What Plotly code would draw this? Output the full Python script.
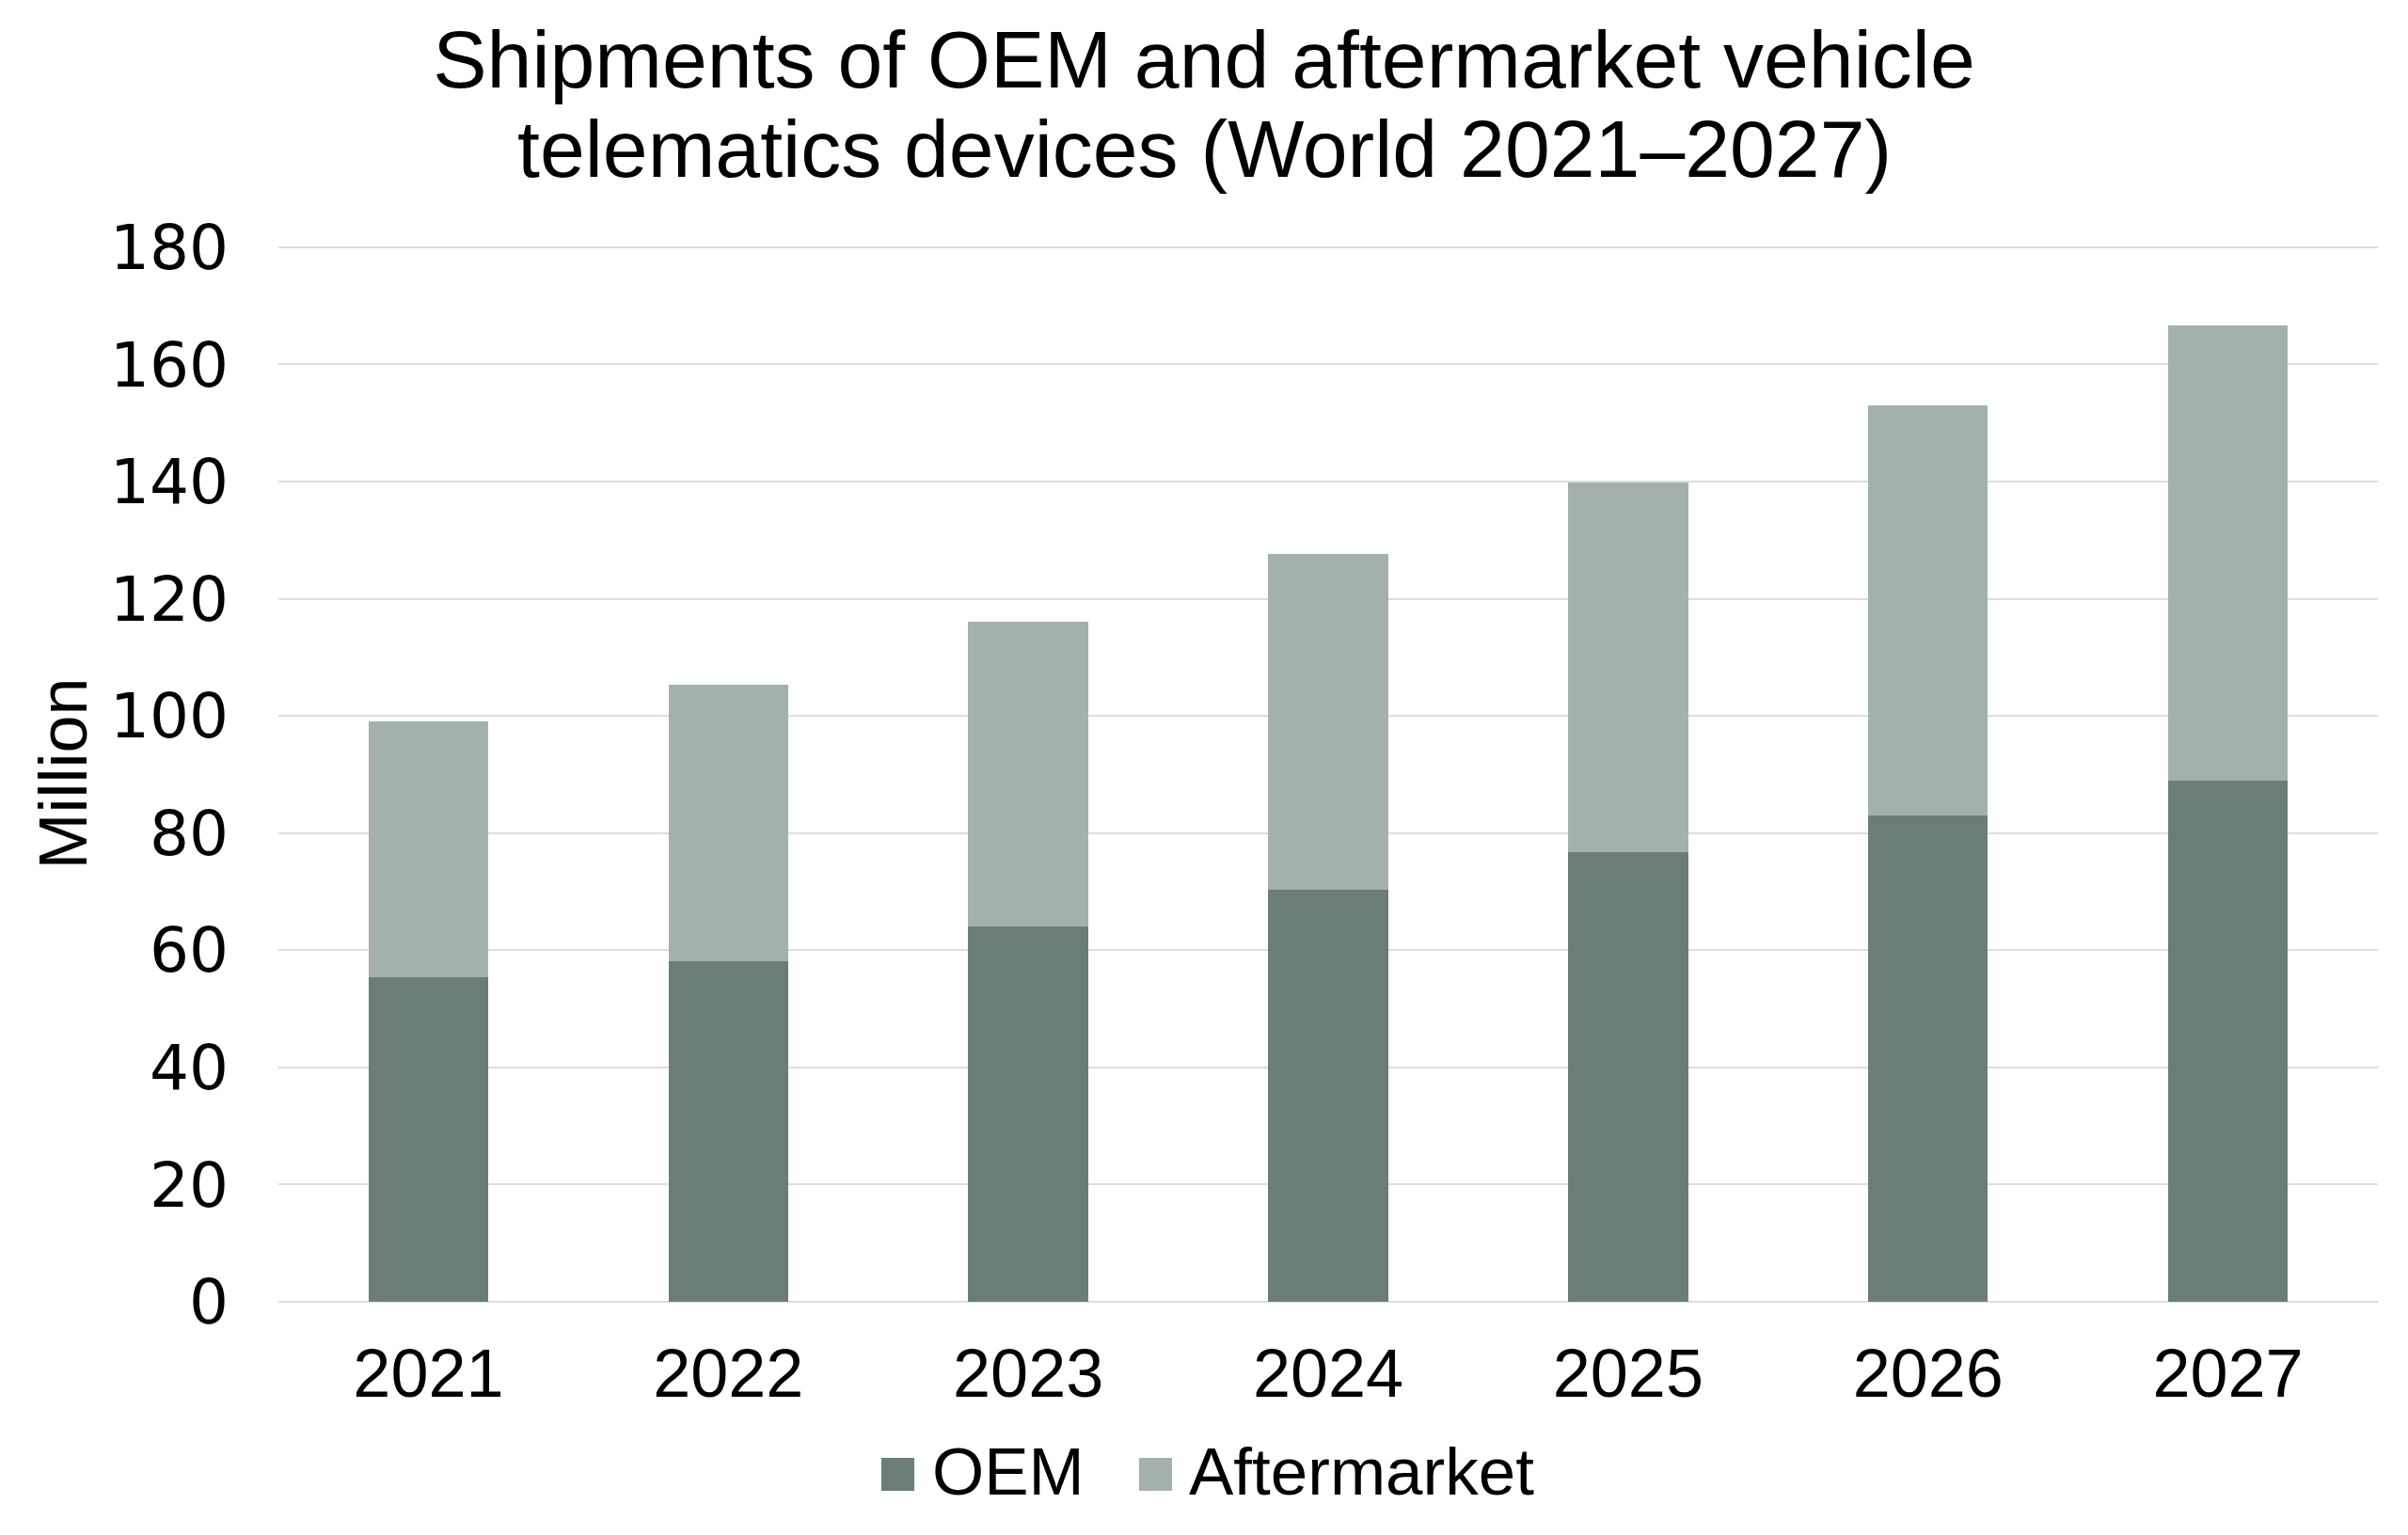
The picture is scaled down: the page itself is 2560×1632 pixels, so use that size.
import plotly.graph_objects as go

years = ["2021", "2022", "2023", "2024", "2025", "2026", "2027"]
oem = [55.4, 58.2, 64.1, 70.4, 76.8, 83.0, 88.9]
aftermarket = [43.7, 47.2, 51.9, 57.2, 63.1, 70.0, 77.7]
y_ticks = [0, 20, 40, 60, 80, 100, 120, 140, 160, 180]
title_lines = ["Shipments of OEM and aftermarket vehicle", "telematics devices (World 2021\u20132027)"]
series_names = ["OEM", "Aftermarket"]

OEM_COLOR = "#6B7D76"
AFT_COLOR = "#A4B0AB"
FONT = "Liberation Sans, Arial, sans-serif"
TICK_FONT = "DejaVu Sans, sans-serif"

W, H = 2560, 1632
L, T, R, B = 288, 253, 40, 256
PW, PH = W - L - R, H - T - B


def px_x(x):
    return (x - L) / PW


def px_y(y):
    return (H - B - y) / PH


fig = go.Figure()
fig.add_trace(go.Bar(name=series_names[0], x=years, y=oem, showlegend=False,
                     marker=dict(color=OEM_COLOR, line=dict(width=0))))
fig.add_trace(go.Bar(name=series_names[1], x=years, y=aftermarket, showlegend=False,
                     marker=dict(color=AFT_COLOR, line=dict(width=0))))

# custom legend with large square swatches
legend_items = [(series_names[0], OEM_COLOR, 929, 981), (series_names[1], AFT_COLOR, 1203, 1254)]
shapes, annotations = [], []
for name, color, sx, tx in legend_items:
    shapes.append(dict(type="rect", xref="paper", yref="paper",
                       x0=px_x(sx), x1=px_x(sx + 35), y0=px_y(1577), y1=px_y(1542),
                       fillcolor=color, line=dict(width=0)))
    annotations.append(dict(text=name, xref="paper", yref="paper", x=px_x(tx), y=px_y(1557),
                            xanchor="left", yanchor="middle", showarrow=False,
                            font=dict(family=FONT, size=71, color="black")))

annotations.append(dict(text=title_lines[1], xref="paper", yref="paper",
                        x=px_x(W / 2 - 8), y=px_y(150), xanchor="center", yanchor="middle",
                        showarrow=False, font=dict(family=FONT, size=86, color="black")))

fig.update_layout(
    width=W, height=H,
    barmode="stack", bargap=0.6,
    paper_bgcolor="white", plot_bgcolor="white",
    font=dict(family=FONT, color="black", size=70),
    margin=dict(l=L, r=R, t=T, b=B),
    title=dict(
        text=title_lines[0],
        x=(W / 2 - 8) / W, xref="container", xanchor="center",
        y=1 - 25 / H, yref="container", yanchor="top",
        font=dict(family=FONT, size=86, color="black"),
    ),
    showlegend=False,
    shapes=shapes,
    annotations=annotations,
)
fig.update_xaxes(
    tickfont=dict(family=FONT, size=72, color="black"),
    showgrid=False, showline=False, ticks="", ticklabelstandoff=28,
)
fig.update_yaxes(
    range=[0, 180.3], tickvals=y_ticks,
    tickfont=dict(family=TICK_FONT, size=66, color="black"),
    showgrid=True, gridcolor="#DDDDDD", gridwidth=2,
    zeroline=True, zerolinecolor="#DDDDDD", zerolinewidth=2,
    showline=False, ticks="", ticklabelstandoff=52,
    title=dict(text="Million", font=dict(family=FONT, size=72, color="black"), standoff=0),
)

fig.write_html("out.html")
